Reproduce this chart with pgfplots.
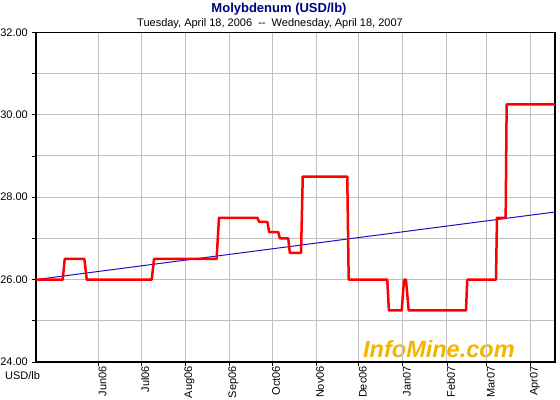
\documentclass[border=0pt]{standalone}
\usepackage{fontspec}
\setmainfont{Liberation Sans}
\usepackage{pgfplots}
\pgfplotsset{compat=1.18}
\definecolor{titlenavy}{RGB}{0,0,128}
\definecolor{gridgray}{RGB}{192,192,192}
\definecolor{trendblue}{RGB}{20,20,200}
\definecolor{wmgold}{RGB}{242,182,0}
\begin{document}
\begin{tikzpicture}
\useasboundingbox (0,0) rectangle (560bp,400bp);
\node[anchor=base west, inner sep=0pt, text=wmgold, font=\fontsize{23.5bp}{26bp}\selectfont\bfseries\itshape] at (363bp,42.5bp) {InfoMine.com};
\node[anchor=base, inner sep=0pt, text=titlenavy, font=\fontsize{13bp}{15bp}\selectfont\bfseries] at (279bp,387.3bp) {Molybdenum (USD/lb)};
\node[anchor=base, inner sep=0pt, font=\fontsize{11bp}{13bp}\selectfont] at (270bp,373.3bp) {Tuesday, April 18, 2006\ \ {-}{-}\ \ Wednesday, April 18, 2007};
\node[anchor=west, inner sep=0pt, font=\fontsize{11bp}{13bp}\selectfont] at (5bp,24.3bp) {USD/lb};
\begin{axis}[
  at={(36bp,38bp)}, anchor=south west,
  scale only axis, width=519bp, height=329.7bp,
  xmin=0, xmax=365, ymin=24, ymax=32,
  xtick={44,74,105,136,166,197,227,258,289,317,348},
  xticklabels={Jun06,Jul06,Aug06,Sep06,Oct06,Nov06,Dec06,Jan07,Feb07,Mar07,Apr07},
  ytick={24,25,...,32},
  yticklabels={24.00,,26.00,,28.00,,30.00,,32.00},
  xtick pos=lower, ytick pos=left,
  tick align=outside, major tick length=4bp,
  tick style={black, line width=0.8bp},
  grid=major, grid style={gridgray, line width=1bp},
  axis line style={black, line width=1.2bp},
  /pgf/number format/assume math mode=true,
  tick label style={font=\fontsize{11bp}{13bp}\selectfont},
  yticklabel style={anchor=east, inner sep=0pt, xshift=-4bp},
  xticklabel style={rotate=90, anchor=east, inner sep=0pt, yshift=-4bp},
]
\addplot[trendblue, line width=1bp] coordinates {(0,26.0) (365,27.64)};
\addplot[red, line width=2.5bp, line join=round] coordinates {
(0,26) (18.8,26) (20.2,26.5) (34,26.5) (35.7,26) (81.4,26) (83,26.5) (127,26.5) (128.7,27.5)
(155.6,27.5) (157,27.4) (162.7,27.4) (164,27.15) (170.4,27.15) (171.5,27.0) (177.4,27.0)
(178.5,26.65) (186.4,26.65) (187.6,28.5) (218.9,28.5) (219.9,26) (247,26) (248.2,25.25)
(257.2,25.25) (258.8,26) (260.2,26) (262.1,25.25) (302.4,25.25) (303.3,26) (323.5,26)
(324.2,27.5) (330.3,27.5) (331,30.25) (365,30.25)};
\end{axis}
\end{tikzpicture}
\end{document}
